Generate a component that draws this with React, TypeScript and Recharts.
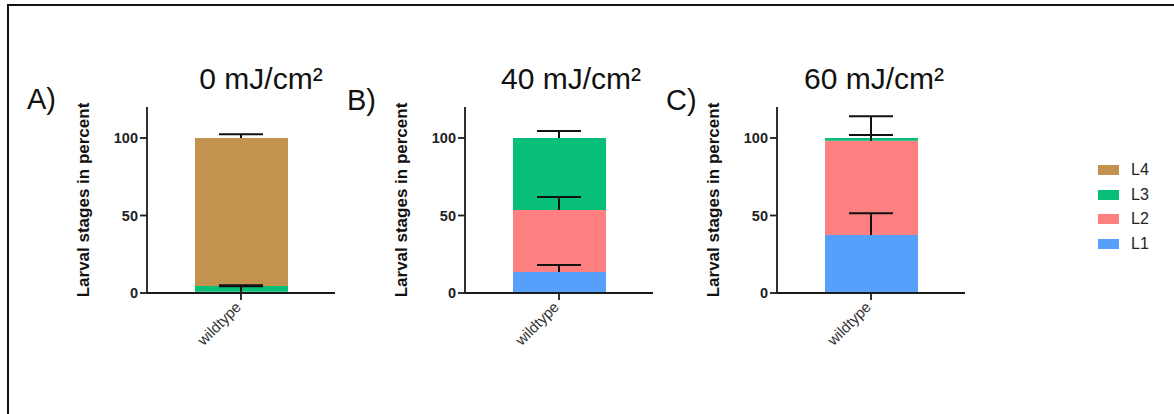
import React from 'react';
import { ComposedChart, Bar, XAxis, YAxis, Legend } from 'recharts';

// Larval stage distribution of the wildtype after UV-C exposure
const categories = ['wildtype'];
const doseTitles = ['0 mJ/cm²', '40 mJ/cm²', '60 mJ/cm²'];
const panelLetters = ['A)', 'B)', 'C)'];
const stages = ['L1', 'L2', 'L3', 'L4'];
const stageColors = ['#56A0FB', '#FF8080', '#07BF78', '#C4924F'];

// mean share of each stage per dose, in percent
const l1Mean = [0, 13.5, 37.5];
const l2Mean = [0.8, 40, 60.8];
const l3Mean = [3.7, 46.5, 1.7];
const l4Mean = [95.5, 0, 0];

// upper error of each stage per dose
const l1Err = [0, 4.5, 14];
const l2Err = [3.5, 8.5, 3.7];
const l3Err = [0.5, 4.5, 14];
const l4Err = [2.5, 0, 0];

const yTicks = [0, 50, 100];
const yMax = 120;

const means = [l1Mean, l2Mean, l3Mean, l4Mean];
const errs = [l1Err, l2Err, l3Err, l4Err];

// layout
const FONT = '"Liberation Sans", Arial, Helvetica, sans-serif';
const INK = '#1a1a1a';
const axisLeft = [147, 465, 777];
const titleX = [261, 571, 874];
const letterPos = [
  { x: 27, y: 109 },
  { x: 347, y: 110 },
  { x: 666, y: 110 },
];
const yAxisWidth = 80;
const plotWidth = 188;
const plotTop = 107;
const plotHeight = 186;
const chartHeight = 414;

function panelRows(p: number) {
  const row: Record<string, any> = { name: categories[0] };
  let base = 0;
  stages.forEach((s, k) => {
    const v = means[k][p];
    row[s] = v;
    row[s + '_err'] = [base + v, base + v + errs[k][p]];
    base += v;
  });
  return [row];
}

// one-sided error whisker: vertical stem from the segment top plus an upper cap
function ErrMark(props: any) {
  const { x, y, width, height } = props;
  if (x == null || y == null) return <g />;
  const top = Math.min(y, y + height);
  const bottom = Math.max(y, y + height);
  const cx = x + width / 2;
  return (
    <g stroke="#111" strokeWidth={2}>
      <line x1={cx} x2={cx} y1={top} y2={bottom} />
      <line x1={x} x2={x + width} y1={top} y2={top} />
    </g>
  );
}

function CategoryTick(props: any) {
  const { x, y, payload } = props;
  const ax = x + 1;
  const ay = y + 6;
  return (
    <text
      x={ax}
      y={ay}
      transform={`rotate(-45 ${ax} ${ay})`}
      textAnchor="end"
      fontSize={15}
      fontFamily={FONT}
      fill="#333"
    >
      {payload.value}
    </text>
  );
}

function StageLegend(props: any) {
  const items = (props.payload || [])
    .filter((it: any) => stages.includes(it.value))
    .sort((a: any, b: any) => stages.indexOf(b.value) - stages.indexOf(a.value));
  return (
    <div style={{ fontFamily: FONT }}>
      {items.map((it: any) => (
        <div
          key={it.value}
          style={{ display: 'flex', alignItems: 'center', height: 24.6 }}
        >
          <span
            style={{
              display: 'inline-block',
              width: 21,
              height: 10,
              background: it.color,
            }}
          />
          <span style={{ marginLeft: 12, fontSize: 16, color: '#222', lineHeight: '16px' }}>
            {it.value}
          </span>
        </div>
      ))}
    </div>
  );
}

function Panel({ p }: { p: number }) {
  const data = panelRows(p);
  const isLast = p === 2;
  const left = axisLeft[p] - yAxisWidth;
  const width = isLast ? 1174 - left : yAxisWidth + plotWidth;
  const axisStroke = { stroke: INK, strokeWidth: 1.8 };
  return (
    <div style={{ position: 'absolute', left, top: 0 }}>
      <ComposedChart
        width={width}
        height={chartHeight}
        data={data}
        margin={{ top: plotTop, right: width - yAxisWidth - plotWidth, bottom: 0, left: 0 }}
      >
        <XAxis
          dataKey="name"
          height={chartHeight - plotTop - plotHeight}
          tickSize={7}
          tick={<CategoryTick />}
          axisLine={axisStroke}
          tickLine={axisStroke}
          interval={0}
        />
        {stages.map((s) => (
          <XAxis key={s} xAxisId={'err' + s} dataKey="name" hide />
        ))}
        <YAxis
          domain={[0, yMax]}
          ticks={yTicks}
          width={yAxisWidth}
          tickSize={7}
          tickMargin={2}
          axisLine={axisStroke}
          tickLine={axisStroke}
          tick={{ fontSize: 14.5, fontWeight: 'bold', fill: '#222', fontFamily: FONT }}
          label={{
            value: 'Larval stages in percent',
            angle: -90,
            position: 'insideLeft',
            offset: yAxisWidth - 64.5,
            style: {
              textAnchor: 'middle',
              fontWeight: 'bold',
              fontSize: 17,
              fill: '#111',
              fontFamily: FONT,
            },
          }}
        />
        {stages.map((s, k) => (
          <Bar
            key={s}
            dataKey={s}
            name={s}
            stackId="stage"
            fill={stageColors[k]}
            barSize={93}
            isAnimationActive={false}
          />
        ))}
        {stages.map((s, k) =>
          errs[k][p] > 0 ? (
            <Bar
              key={s + '_err'}
              dataKey={s + '_err'}
              xAxisId={'err' + s}
              barSize={44}
              fill="none"
              legendType="none"
              shape={ErrMark}
              isAnimationActive={false}
            />
          ) : null
        )}
        {isLast ? (
          <Legend
            layout="vertical"
            align="center"
            verticalAlign="middle"
            wrapperStyle={{ left: 1098 - left, top: 157.7, width: 70 }}
            content={StageLegend}
          />
        ) : null}
      </ComposedChart>
    </div>
  );
}

export default function App() {
  return (
    <div
      style={{
        position: 'absolute',
        left: 0,
        top: 0,
        width: 1174,
        height: 414,
        overflow: 'hidden',
        background: '#fff',
      }}
    >
      <div
        style={{
          position: 'absolute',
          left: 7,
          top: 4,
          width: 1167,
          height: 410,
          boxSizing: 'border-box',
          borderTop: '2px solid #111',
          borderLeft: '2px solid #111',
        }}
      />
      {[0, 1, 2].map((p) => (
        <Panel key={p} p={p} />
      ))}
      <svg
        width={1174}
        height={414}
        style={{ position: 'absolute', left: 0, top: 0, pointerEvents: 'none' }}
      >
        {doseTitles.map((t, p) => (
          <text
            key={t}
            x={titleX[p]}
            y={89}
            textAnchor="middle"
            fontSize={30}
            fontFamily={FONT}
            fill="#111"
          >
            {t}
          </text>
        ))}
        {panelLetters.map((t, p) => (
          <text
            key={t}
            x={letterPos[p].x}
            y={letterPos[p].y}
            fontSize={29}
            fontFamily={FONT}
            fill="#111"
          >
            {t}
          </text>
        ))}
      </svg>
    </div>
  );
}
